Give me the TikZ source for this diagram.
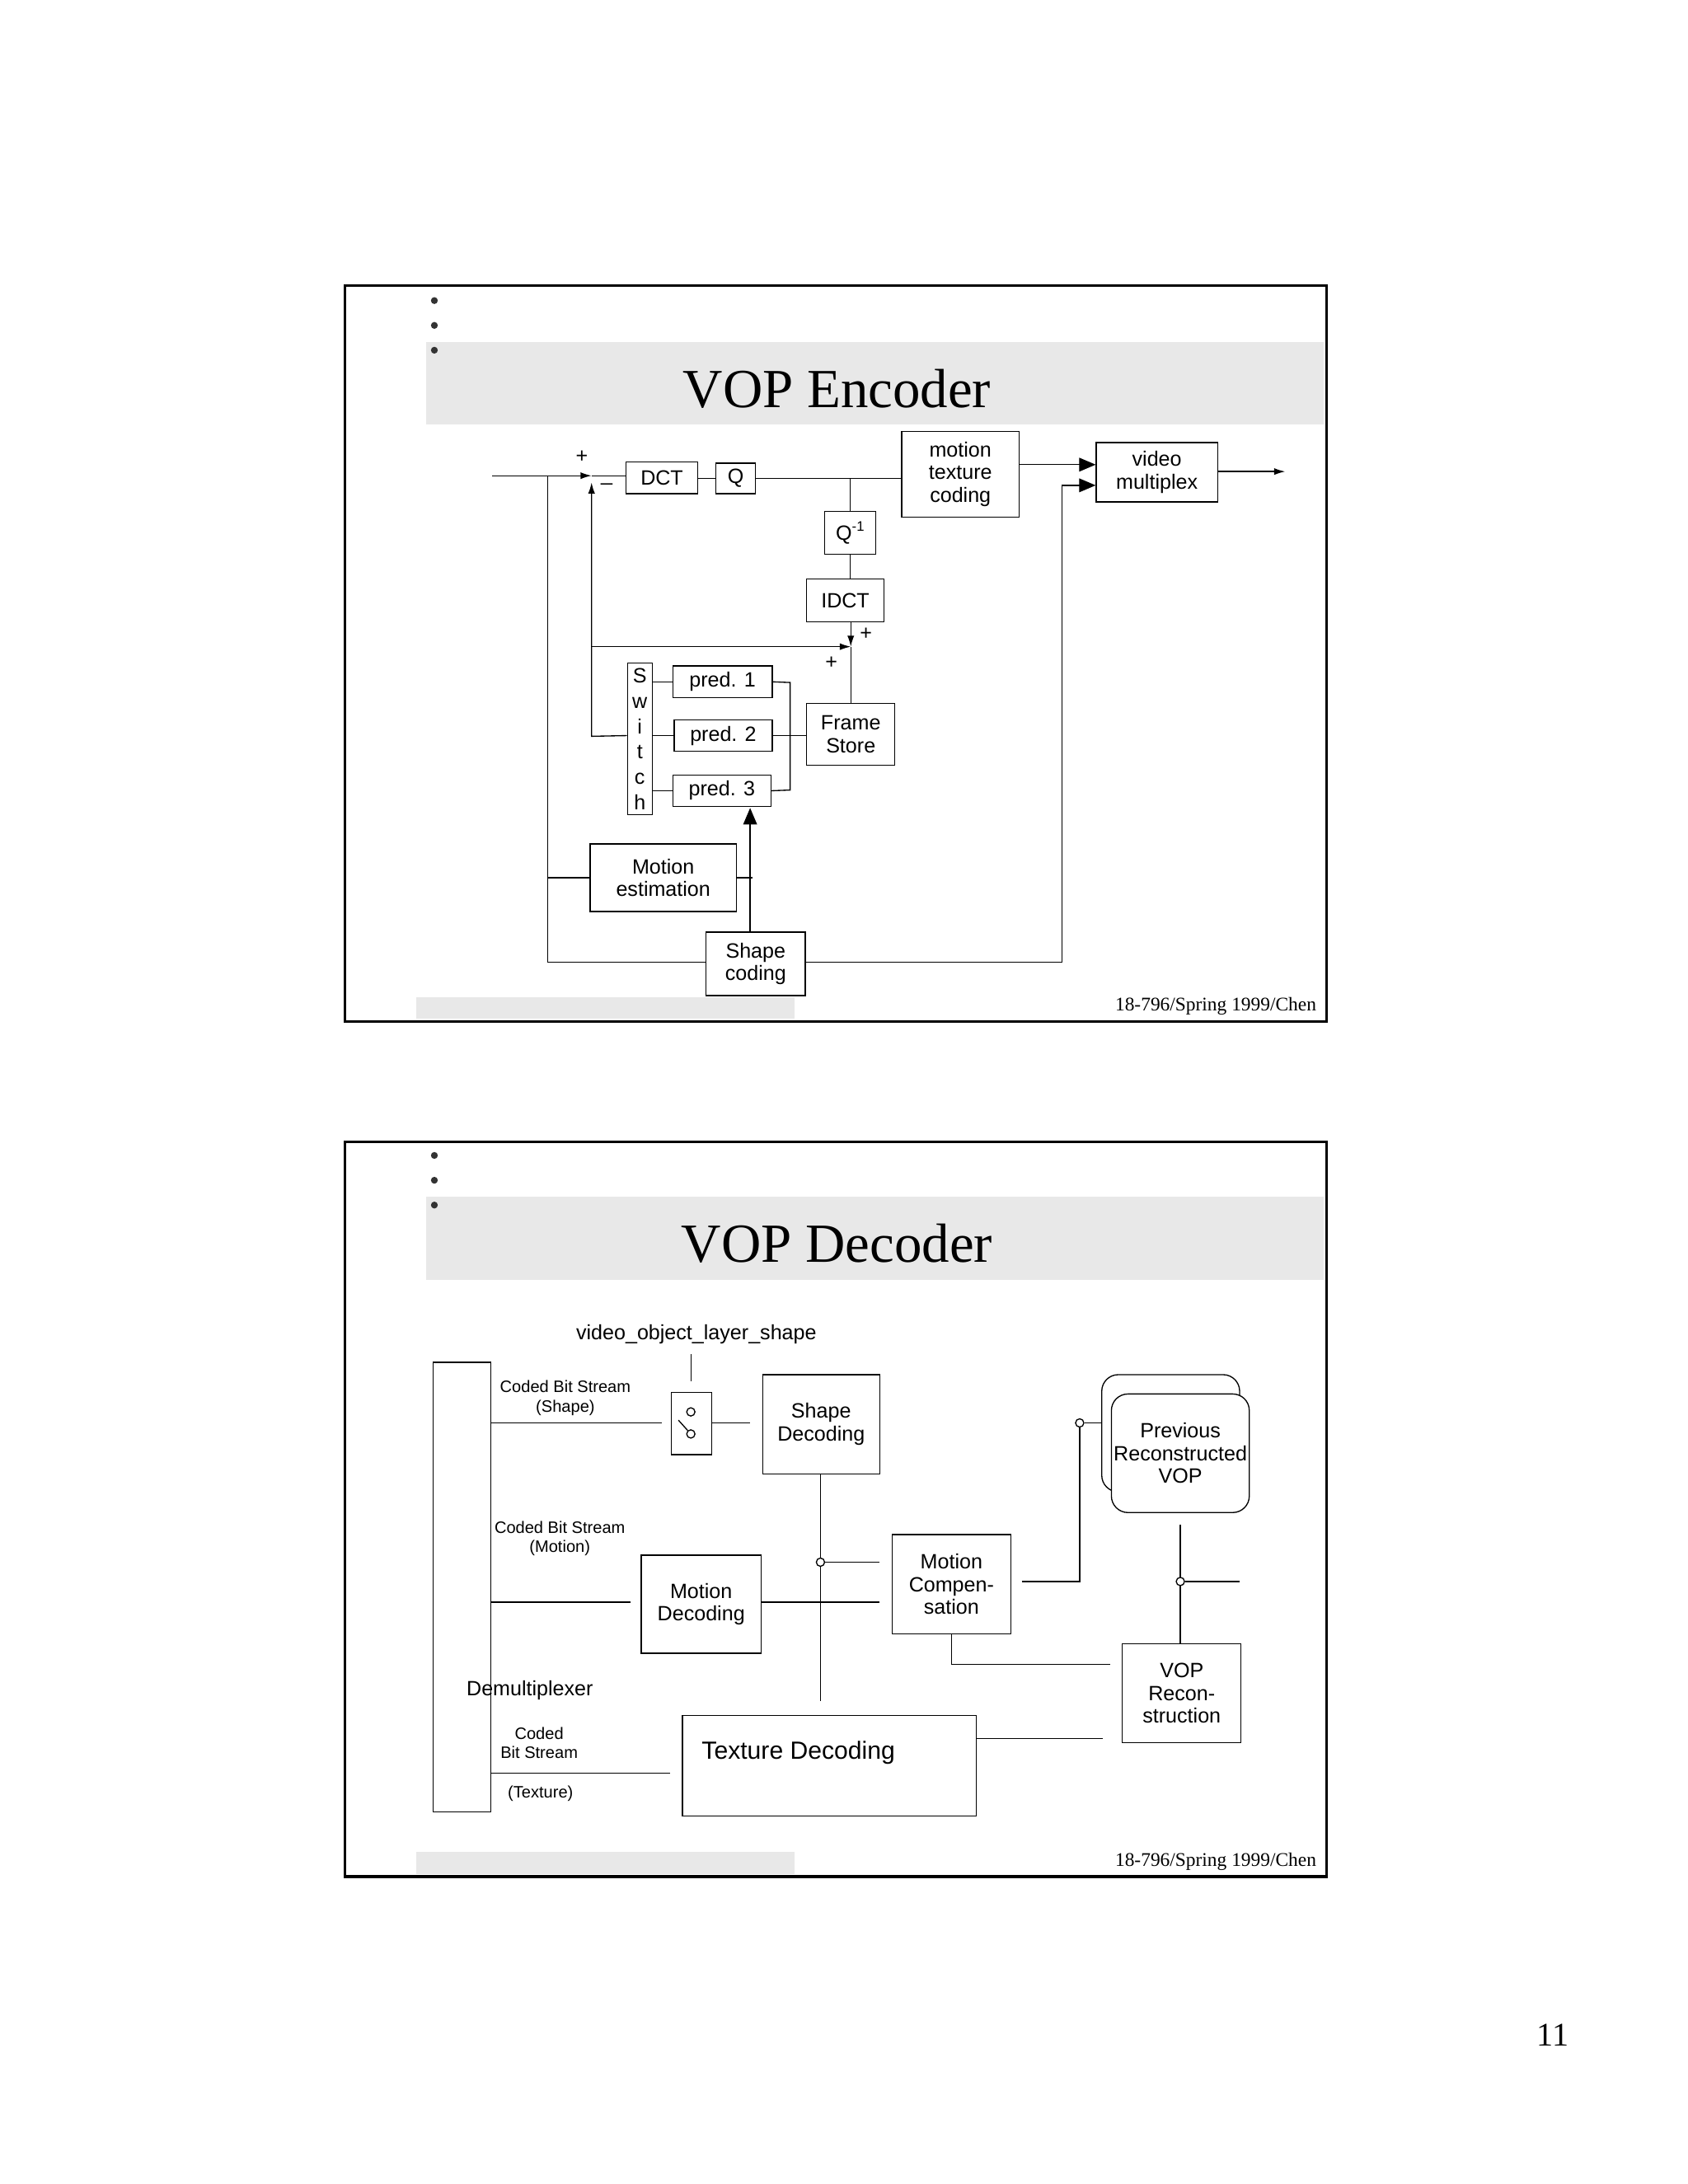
\documentclass[tikz,border=0pt]{standalone}
\usepackage{fontspec}
\setmainfont{Liberation Serif}
\setsansfont{Liberation Sans}
\usetikzlibrary{arrows.meta}
\newcommand\bx[6]{\node[box,minimum width={(#4-#2)*0.5pt},minimum height={(#5-#3)*0.5pt}] (#1) at ({(#2+#4)/2},{(#3+#5)/2}) {#6};}
\newcommand\rbx[6]{\node[box,rounded corners=6pt,fill=white,minimum width={(#4-#2)*0.5pt},minimum height={(#5-#3)*0.5pt}] (#1) at ({(#2+#4)/2},{(#3+#5)/2}) {#6};}
\begin{document}
\begin{tikzpicture}[x=0.5pt,y=-0.5pt,
  box/.style={draw,line width=0.4pt,inner sep=0pt,align=center,font=\sffamily\fontsize{7.5}{8.2}\selectfont},
  lbl/.style={font=\sffamily\fontsize{7.5}{8.2}\selectfont,align=center,inner sep=0pt},
  sm/.style={font=\sffamily\fontsize{6}{7}\selectfont,align=center,inner sep=0pt},
  ln/.style={line width=0.4pt},
  ar/.style={line width=0.4pt,-{Latex[length=4pt,width=2.5pt]}},
  bar/.style={line width=0.4pt,-{Triangle[length=6pt,width=5pt]}},
  frame/.style={line width=1pt},
  band/.style={fill=black!9,draw=none},
  dot/.style={circle,fill=black!80,inner sep=0pt,minimum size=2.5pt},
  ring/.style={circle,draw,fill=white,inner sep=0pt,minimum size=3pt,line width=0.4pt},
  foot/.style={font=\fontsize{7}{8}\selectfont,inner sep=0pt,anchor=east}]
\useasboundingbox[fill=white] (0,0) rectangle (1224,1584);
% ================= ENCODER =================
\fill[band] (309,248) rectangle (960,308);
\fill[band] (302,723) rectangle (576,739);
\draw[frame] (250,207) rectangle (962,741);
\foreach \y in {218,236,254} \node[dot] at (315,\y) {};
\node[font=\fontsize{20}{22}\selectfont] (t1) at (607,282) {VOP Encoder};
\node[foot] (f1) at (955,730) {18-796/Spring 1999/Chen};

\bx{dct}{454}{335}{506}{358}{DCT}
\bx{q}{519}{336}{548}{358}{Q}
\bx{qi}{598}{371}{635}{402}{Q\raisebox{0.8ex}{\tiny -1}}
\bx{mtc}{654}{313}{739}{375}{motion\\texture\\coding}
\bx{vm}{795}{321}{883}{364}{video\\multiplex}
\bx{idct}{585}{420}{641}{451}{IDCT}
\bx{fs}{585}{510}{649}{555}{Frame\\Store}
\bx{sw}{455}{481}{473}{591}{S\\[1pt]w\\[1pt]i\\[1pt]t\\[1pt]c\\[1pt]h}
\bx{p1}{488}{483}{560}{506}{pred. 1}
\bx{p2}{489}{522}{560}{545}{pred. 2}
\bx{p3}{488}{562}{559}{585}{pred. 3}
\bx{me}{428}{612}{534}{661}{Motion\\estimation}
\bx{sc}{512}{676}{584}{722}{Shape\\coding}

\coordinate (in) at (357,345);
\coordinate (sum1) at (429,345);
\coordinate (sum2) at (617,469);
\coordinate (out) at (932,342);
\draw[ar] (in) -- (sum1);
\draw[ln] (sum1) -- (dct.west |- sum1);
\draw[ln] (dct.east |- q) -- (q.west);
\draw[ln] (q.east) -- (mtc.west |- q);
\draw[ln] (qi.north) -- (qi.north |- q);
\draw[ln] (qi.south) -- (idct.north -| qi);
\draw[ar] (idct.south -| sum2) -- (sum2);
\draw[ln] (fs.north -| sum2) -- (sum2);
\draw[ar] (429,469) -- (sum2);
\draw[ar] (sw.west |- p2) -- (429,534) -- (429,350);
\node[lbl] at (422,331) {+};
\node[lbl] at (440,350) {\_};
\node[lbl] at (628,460) {+};
\node[lbl] at (603,481) {+};
\draw[ln] (sw.east |- p1) -- (p1.west);
\draw[ln] (sw.east |- p2) -- (p2.west);
\draw[ln] (sw.east |- p3) -- (p3.west);
\draw[ln] (p1.east) -- (573,495) -- (573,573) -- (p3.east);
\draw[ln] (p2.east) -- (fs.west |- p2);
\draw[bar] (sc.north -| 544,0) -- (544,586);
\draw[ln] (me.east) -- (546,636.5);
\draw[ln] (me.west) -- (397,636.5);
\draw[ln] (397,345) -- (397,698) -- (sc.west |- 0,698);
\draw[ln] (sc.east |- 0,698) -- (770,698) -- (770,352);
\draw[bar] (770,352) -- (vm.west |- 0,352);
\draw[bar] (mtc.east |- 0,337) -- (vm.west |- 0,337);
\draw[ar] (vm.east |- out) -- (out);

% ================= DECODER =================
\fill[band] (309,868) rectangle (960,928);
\fill[band] (302,1343) rectangle (576,1359);
\draw[frame] (250,828) rectangle (962,1361);
\foreach \y in {838,856,874} \node[dot] at (315,\y) {};
\node[font=\fontsize{20}{22}\selectfont] (t2) at (607,902) {VOP Decoder};
\node[foot] (f2) at (955,1350) {18-796/Spring 1999/Chen};

\bx{dm}{314}{988}{356}{1314}{}
\node[lbl,anchor=west] at (338,1226) {Demultiplexer};
\node[lbl] (vols) at (505,968) {video\_object\_layer\_shape};
\bx{sws}{487}{1010}{516}{1055}{}
\bx{sd}{553}{997}{638}{1069}{Shape\\Decoding}
\bx{md}{465}{1128}{552}{1199}{Motion\\Decoding}
\bx{mc}{647}{1113}{733}{1185}{Motion\\Compen-\\sation}
\rbx{prb}{799}{997}{899}{1082}{}
\rbx{prv}{806}{1011}{906}{1097}{Previous\\Reconstructed\\VOP}
\bx{vr}{814}{1192}{900}{1264}{VOP\\Recon-\\struction}
\node[box,minimum width={213*0.5pt},minimum height={73*0.5pt}] (td) at (601.5,1280.5) {};
\node[lbl,font=\sffamily\fontsize{9}{10}\selectfont] at (579,1271) {Texture Decoding};

\node[sm] at (410,1014) {Coded Bit Stream\\(Shape)};
\node[sm] at (406,1116) {Coded Bit Stream\\(Motion)};
\node[sm] at (391,1264) {Coded\\Bit Stream};
\node[sm] at (392,1301) {(Texture)};

\draw[ln] (501,982) -- (501,1002);
\node[ring] (c1) at (501,1024) {};
\node[ring] (c2) at (501,1040) {};
\draw[ln] (492,1030) -- (c2);
\draw[ln] (356,1032) -- (480,1032);
\draw[ln] (sws.east |- 0,1032) -- (544,1032);
\draw[ln] (sd.south -| 595,0) -- (595,1234);
\node[ring] (c3) at (595,1133) {};
\draw[ln] (c3) -- (638,1133);
\draw[ln] (356,1162) -- (457,1162);
\draw[ln] (md.east |- 0,1162) -- (638,1162);
\draw[ln] (741,1147) -- (783,1147) -- (783,1035);
\node[ring] (c4) at (783,1032) {};
\draw[ln] (c4) -- (799,1032);
\draw[ln] (856,1106) -- (856,1192);
\node[ring] (c5) at (856,1147) {};
\draw[ln] (c5) -- (899,1147);
\draw[ln] (mc.south -| 690,0) -- (690,1207) -- (805,1207);
\draw[ln] (td.east |- 0,1261) -- (800,1261);
\draw[ln] (356,1286) -- (486,1286);

\node[font=\fontsize{12}{14}\selectfont] (pg) at (1126,1476) {11};
\end{tikzpicture}
\end{document}
